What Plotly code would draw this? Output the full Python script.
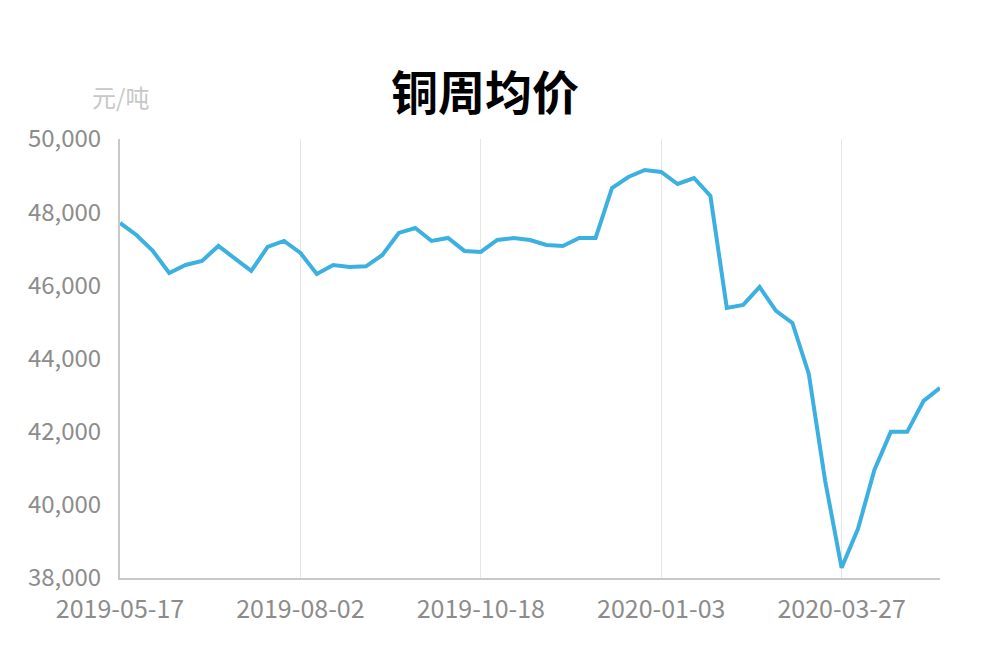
import plotly.graph_objects as go

dates = [
    "2019-05-17", "2019-05-24", "2019-05-31", "2019-06-07", "2019-06-14", "2019-06-21",
    "2019-06-28", "2019-07-05", "2019-07-12", "2019-07-19", "2019-07-26", "2019-08-02",
    "2019-08-09", "2019-08-16", "2019-08-23", "2019-08-30", "2019-09-06", "2019-09-13",
    "2019-09-20", "2019-09-27", "2019-10-04", "2019-10-11", "2019-10-18", "2019-10-25",
    "2019-11-01", "2019-11-08", "2019-11-15", "2019-11-22", "2019-11-29", "2019-12-06",
    "2019-12-13", "2019-12-20", "2019-12-27", "2020-01-03", "2020-01-10", "2020-01-17",
    "2020-01-23", "2020-02-07", "2020-02-14", "2020-02-21", "2020-02-28", "2020-03-06",
    "2020-03-13", "2020-03-20", "2020-03-27", "2020-04-03", "2020-04-10", "2020-04-17",
    "2020-04-24", "2020-04-30", "2020-05-08",
]
prices = [
    47705, 47377, 46940, 46339, 46557, 46667, 47077, 46721, 46393, 47049, 47213,
    46885, 46311, 46557, 46503, 46520, 46831, 47432, 47568, 47213, 47295, 46940,
    46913, 47240, 47295, 47240, 47104, 47077, 47295, 47295, 48661, 48962, 49153,
    49098, 48770, 48934, 48443, 45383, 45464, 45956, 45300, 44973, 43579, 40650,
    38279, 39344, 40956, 41995, 41995, 42842, 43197,
]
tick_labels = ["2019-05-17", "2019-08-02", "2019-10-18", "2020-01-03", "2020-03-27"]

fig = go.Figure()
fig.add_trace(go.Scatter(
    x=dates, y=prices, mode="lines",
    line=dict(color="#3db0e2", width=4),
    hoverinfo="x+y",
))

font_family = "Noto Sans CJK SC, Noto Sans, sans-serif"
fig.update_layout(
    width=1000, height=660,
    margin=dict(l=112, r=68, t=131, b=90),
    paper_bgcolor="white", plot_bgcolor="white",
    showlegend=False,
    font=dict(family=font_family, color="#8c8c8c"),
    title=dict(text="<b>铜周均价</b>", x=0.477, xanchor="center", y=0.871, yanchor="middle",
               font=dict(size=47, color="black", family=font_family)),
    xaxis=dict(
        type="category", range=[0, len(dates) - 1],
        tickmode="array", tickvals=tick_labels, ticktext=tick_labels,
        showgrid=True, gridcolor="#e6e6e6", gridwidth=1,
        showline=True, linecolor="#c8c8c8", linewidth=2,
        ticks="", tickfont=dict(size=25, color="#8c8c8c"),
        ticklabelstandoff=8, zeroline=False,
    ),
    yaxis=dict(
        range=[38000, 50000], dtick=2000, tickformat=",",
        showgrid=False, showline=True, linecolor="#c8c8c8", linewidth=2,
        ticks="", tickfont=dict(size=24, color="#8c8c8c"),
        ticklabelstandoff=12, zeroline=False,
    ),
    annotations=[dict(
        text="元/吨", xref="paper", yref="paper", x=0.0, y=1.096,
        xanchor="center", yanchor="middle", showarrow=False,
        font=dict(size=24, color="#c8c8c8", family=font_family),
    )],
)

fig.write_html("out.html")
